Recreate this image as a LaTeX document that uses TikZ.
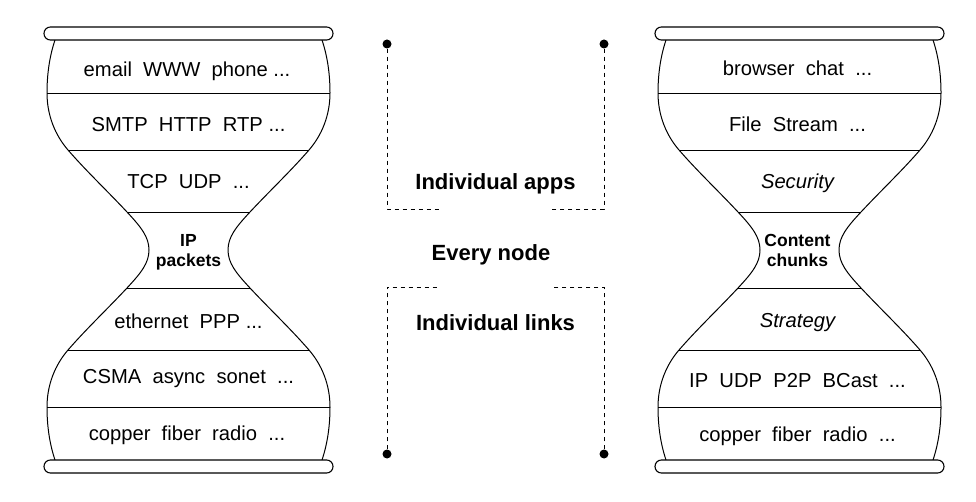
\documentclass[tikz,border=0pt]{standalone}
\usepackage{fontspec}
\setmainfont{Liberation Sans}
\newcommand\drawhourglass{%
  \draw[outline] (55,40) .. controls (49,58) and (47,76) .. (47,93)
    .. controls (47,115) and (55,135) .. (68,150)
    .. controls (86.2,171) and (107.4,191) .. (127,212)
    .. controls (141,227) and (149,237) .. (149,250)
    .. controls (149,263) and (141,273) .. (127,288)
    .. controls (107.4,309) and (86.2,329) .. (68,350)
    .. controls (55,365) and (47,385) .. (47,407)
    .. controls (47,424) and (49,442) .. (55,460);
  \draw[outline] (322,460) .. controls (328,442) and (330,424) .. (330,407)
    .. controls (330,385) and (322,365) .. (309,350)
    .. controls (290.8,329) and (269.6,309) .. (250,288)
    .. controls (236,273) and (228,263) .. (228,250)
    .. controls (228,237) and (236,227) .. (250,212)
    .. controls (269.6,191) and (290.8,171) .. (309,150)
    .. controls (322,135) and (330,115) .. (330,93)
    .. controls (330,76) and (328,58) .. (322,40);
  \draw[layer] (47,93) -- (330,93);
  \draw[layer] (68,150) -- (309,150);
  \draw[layer] (127,212) -- (250,212);
  \draw[layer] (127,288) -- (250,288);
  \draw[layer] (68,350) -- (309,350);
  \draw[layer] (47,407) -- (330,407);
  \draw[capbar] (44,27) rectangle (333,40);
  \draw[capbar] (44,460) rectangle (333,473);
}
\begin{document}
\begin{tikzpicture}[x=1pt,y=-1pt,
  outline/.style={line width=1pt},
  capbar/.style={fill=white,line width=1.1pt,rounded corners=6.4pt},
  layer/.style={line width=0.9pt},
  lbl/.style={font=\fontsize{20.2}{24}\selectfont, anchor=base, inner sep=0pt},
  ilbl/.style={font=\fontsize{20.2}{24}\selectfont\itshape, anchor=base, inner sep=0pt},
  waist/.style={font=\fontsize{17.5}{20.5}\selectfont\bfseries, align=center, inner sep=0pt},
  mid/.style={font=\fontsize{22}{26}\selectfont\bfseries, anchor=base, inner sep=0pt},
  dot/.style={circle,fill,inner sep=0pt,minimum size=9pt},
  dashline/.style={line width=0.95pt, dash pattern=on 4.5pt off 3.5pt}]
\useasboundingbox (0,0) rectangle (976,502);

% left hourglass
\drawhourglass
% right hourglass
\begin{scope}[xshift=611pt]
\drawhourglass
\end{scope}

% left texts
\node[lbl] (l1) at (187,77) {email\ \ WWW\ \ phone ...};
\node[lbl] (l2) at (188.5,131.5) {SMTP\ \ HTTP\ \ RTP ...};
\node[lbl] (l3) at (188.5,189) {TCP\ \ UDP\ \ ...};
\node[waist] (l4) at (188.5,252.4) {IP\\packets};
\node[lbl] (l5) at (188.5,328.5) {ethernet\ \ PPP ...};
\node[lbl] (l6) at (188.5,383.5) {CSMA\ \ async\ \ sonet\ \ ...};
\node[lbl] (l7) at (187,440) {copper\ \ fiber\ \ radio\ \ ...};

% right texts
\node[lbl] (r1) at (797.5,76) {browser\ \ chat\ \ ...};
\node[lbl] (r2) at (797.5,131.5) {File\ \ Stream\ \ ...};
\node[ilbl] (r3) at (797.5,188.5) {Security};
\node[waist] (r4) at (797.5,250.7) {Content\\chunks};
\node[ilbl] (r5) at (797.5,327.5) {Strategy};
\node[lbl] (r6) at (797.5,387.5) {IP\ \ UDP\ \ P2P\ \ BCast\ \ ...};
\node[lbl] (r7) at (797.5,441.5) {copper\ \ fiber\ \ radio\ \ ...};

% middle
\node[mid] (m1) at (495.5,190) {Individual apps};
\node[mid] (m2) at (491,261) {Every node};
\node[mid] (m3) at (495.5,330) {Individual links};

\node[dot] (dtl) at (387,44) {};
\node[dot] (dtr) at (604,44) {};
\node[dot] (dbl) at (387,454) {};
\node[dot] (dbr) at (604,454) {};
\coordinate (ctl) at (387,209);
\coordinate (etl) at (440,209);
\coordinate (ctr) at (604,209);
\coordinate (etr) at (552,209);
\coordinate (cbl) at (387,287);
\coordinate (ebl) at (440,287);
\coordinate (cbr) at (604,287);
\coordinate (ebr) at (552,287);
\draw[dashline] (dtl) -- (ctl) -- (etl);
\draw[dashline] (dtr) -- (ctr) -- (etr);
\draw[dashline] (dbl) -- (cbl) -- (ebl);
\draw[dashline] (dbr) -- (cbr) -- (ebr);
\end{tikzpicture}
\end{document}
